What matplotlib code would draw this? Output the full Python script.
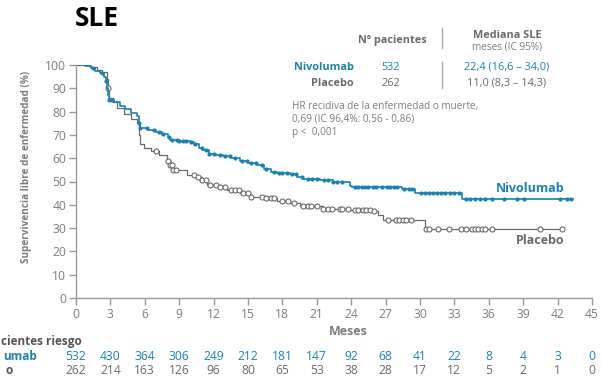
import numpy as np
import matplotlib
matplotlib.use("Agg")
import matplotlib.pyplot as plt
from matplotlib.transforms import blended_transform_factory

plt.rcParams['font.family'] = ['Open Sans', 'DejaVu Sans']

BLUE = '#1a82ad'
GREY = '#6a6a6a'
TXT = '#7c7c7c'

# Kaplan-Meier steps (months, % disease-free)
nivo_t = [0, 0.8, 1.3, 1.7, 2.1, 2.4, 2.6, 2.7, 2.8, 2.9, 3.3, 3.8, 4.3, 4.8,
          5.3, 5.5, 5.6, 6.3, 7.0, 7.5, 8.0, 8.2, 9.0, 9.9, 10.3, 10.7, 11.1,
          11.6, 12.2, 12.8, 13.5, 14.3, 15.0, 15.8, 16.4, 17.0, 17.5, 18.7,
          19.3, 19.8, 20.5, 21.3, 22.4, 23.9, 24.1, 28.4, 29.6, 33.7, 43.3]
nivo_s = [100, 99.5, 98.5, 97.5, 96.5, 95, 93, 90, 87, 85, 84, 82.5, 81, 79.5,
          78, 75, 73, 72, 71.2, 70.5, 69, 68, 67.5, 67, 66, 64.5, 63.5,
          62, 61.5, 61, 60, 58.6, 58, 57, 55.5, 54, 53.6, 53.2,
          52, 51.2, 51, 50.5, 49.8, 48.2, 47.6, 46.8, 45.0, 42.5, 42.5]

plac_t = [0, 1.2, 1.8, 2.3, 2.7, 2.8, 2.9, 3.2, 3.6, 4.2, 4.8, 5.3, 5.5, 5.6,
          5.9, 6.5, 7.2, 7.9, 8.2, 8.5, 9.7, 10.5, 11.0, 11.4, 12.5, 13.2,
          14.3, 15.2, 16.6, 17.5, 18.7, 19.5, 21.5, 23.9, 25.9, 26.3, 26.8,
          30.4, 42.4]
plac_s = [100, 99, 98, 97, 94, 90, 86, 84, 81.5, 79, 77, 75, 70, 66,
          64.5, 63, 61.5, 59, 57, 55, 53, 52, 50.5, 48.5, 47.5, 46.5,
          45.2, 43.5, 42.9, 41.5, 40.8, 39.5, 38.4, 37.8, 37.3, 35.6, 33.5,
          29.6, 29.6]

# censored observations (months)
nivo_cens = [1.5, 2.3, 2.6, 2.9, 3.1, 5.5, 5.6, 6.2, 6.8, 7.2, 7.6, 8.1, 8.4,
             8.8, 9.0, 9.3, 9.6, 10.0, 10.4, 11.0, 11.3, 11.6, 12.0, 12.6,
             13.0, 13.4, 13.9, 14.5, 14.9, 15.3, 15.7, 16.2, 16.6, 17.3, 17.7,
             18.0, 18.4, 18.8, 19.2, 19.7, 20.2, 20.6, 21.0, 21.6, 22.0, 22.4,
             22.8, 23.2, 24.3, 24.6, 24.9, 25.2, 25.5, 25.9, 26.2, 26.7, 27.1,
             27.4, 27.7, 28.0, 28.6, 29.0, 29.3, 30.1, 30.4, 30.8, 31.1, 31.5,
             31.8, 32.2, 32.6, 33.0, 33.4, 34.0, 34.4, 34.8, 35.2, 35.7, 36.3,
             37.3, 38.5, 39.1, 42.2, 42.8, 43.2]
plac_cens = [2.8, 7.0, 8.0, 8.2, 8.4, 8.5, 8.7, 10.3, 10.6, 11.0, 11.3, 11.7,
             12.2, 12.6, 13.0, 13.5, 13.9, 14.2, 14.6, 15.0, 15.3, 16.2, 16.6,
             17.0, 17.3, 18.0, 18.5, 19.0, 19.8, 20.2, 20.5, 21.0, 21.5, 22.0,
             22.3, 23.0, 23.2, 23.7, 24.3, 24.6, 25.0, 25.3, 25.6, 26.0, 27.2,
             27.9, 28.2, 28.5, 28.8, 29.2, 30.5, 30.8, 31.6, 32.5, 33.6, 34.0,
             34.5, 34.8, 35.1, 35.4, 35.7, 36.3, 40.5, 42.4]

risk_months = list(range(0, 46, 3))
nivo_risk = [532, 430, 364, 306, 249, 212, 181, 147, 92, 68, 41, 22, 8, 4, 3, 0]
plac_risk = [262, 214, 163, 126, 96, 80, 65, 53, 38, 28, 17, 12, 5, 2, 1, 0]

W, H = 603, 378


def fx(x):
    return x / W


def fy(y):
    return 1 - y / H


def surv_at(times, surv, t):
    i = np.searchsorted(times, t, side='right') - 1
    return np.asarray(surv)[i]


fig = plt.figure(figsize=(W / 100, H / 100), dpi=100)
ax = fig.add_axes([fx(76), fy(298), fx(592) - fx(76), fy(65) - fy(298)])

ax.step(plac_t, plac_s, where='post', color=GREY, lw=0.9)
ax.plot(plac_cens, surv_at(plac_t, plac_s, plac_cens), 'o', ms=3.6,
        mfc='white', mec=GREY, mew=0.8)
ax.step(nivo_t, nivo_s, where='post', color=BLUE, lw=1.2)
ax.plot(nivo_cens, surv_at(nivo_t, nivo_s, nivo_cens), 'o', ms=3.0,
        color=BLUE, mew=0)

ax.set_xlim(0, 45)
ax.set_ylim(0, 100)
ax.set_xticks(risk_months)
ax.set_yticks(range(0, 101, 10))
for s in ['top', 'right']:
    ax.spines[s].set_visible(False)
for s in ['left', 'bottom']:
    ax.spines[s].set_color('#999999')
    ax.spines[s].set_linewidth(1.0)
ax.tick_params(colors='#999999', labelcolor=TXT, labelsize=8.7, length=5,
               width=1.0, pad=2)
ax.set_xlabel('Meses', fontsize=9, fontweight='bold', color=TXT)
ax.xaxis.set_label_coords(fx(348), fy(325), transform=fig.transFigure)
ax.set_ylabel('Supervivencia libre de enfermedad (%)', fontsize=7.2,
              fontweight='bold', color=TXT)
ax.yaxis.set_label_coords(fx(32), fy(167), transform=fig.transFigure)

ax.text(42.6, 46.8, 'Nivolumab', color=BLUE, fontsize=9, fontweight='bold',
        ha='right', va='center')
ax.text(42.6, 24.5, 'Placebo', color=GREY, fontsize=9, fontweight='bold',
        ha='right', va='center')

# title and summary table
fig.text(fx(75), fy(18), 'SLE', fontsize=19, fontweight='bold', color='black',
         ha='left', va='center')
fig.text(fx(392), fy(40), 'Nº pacientes', fontsize=7.8, fontweight='bold',
         color=GREY, ha='center', va='center')
fig.text(fx(507), fy(35), 'Mediana SLE', fontsize=7.8, fontweight='bold',
         color=GREY, ha='center', va='center')
fig.text(fx(507), fy(47), 'meses (IC 95%)', fontsize=7.2, color=TXT,
         ha='center', va='center')
fig.add_artist(plt.Line2D([fx(442), fx(442)], [fy(28), fy(48)],
                          color='#aaaaaa', lw=1.0))
fig.add_artist(plt.Line2D([fx(442), fx(442)], [fy(62), fy(88)],
                          color='#aaaaaa', lw=1.0))
fig.text(fx(354), fy(67), 'Nivolumab', fontsize=7.8, fontweight='bold',
         color=BLUE, ha='right', va='center')
fig.text(fx(391), fy(67), '532', fontsize=7.8, color=BLUE,
         ha='center', va='center')
fig.text(fx(507), fy(67), '22,4 (16,6 – 34,0)', fontsize=7.8, color=BLUE,
         ha='center', va='center')
fig.text(fx(354), fy(83), 'Placebo', fontsize=7.8, fontweight='bold',
         color=GREY, ha='right', va='center')
fig.text(fx(391), fy(83), '262', fontsize=7.8, color=GREY,
         ha='center', va='center')
fig.text(fx(507), fy(83), '11,0 (8,3 – 14,3)', fontsize=7.8, color=GREY,
         ha='center', va='center')
fig.text(fx(292), fy(107), 'HR recidiva de la enfermedad o muerte,',
         fontsize=7.2, color=TXT, ha='left', va='center')
fig.text(fx(292), fy(119), '0,69 (IC 96,4%: 0,56 - 0,86)',
         fontsize=7.2, color=TXT, ha='left', va='center')
fig.text(fx(292), fy(132), 'p <  0,001', fontsize=7.2, color=TXT,
         ha='left', va='center')

# patients at risk (row labels run off the left edge of the slide)
fig.text(fx(1), fy(342), 'cientes riesgo', fontsize=8.5, fontweight='bold',
         color='#555555', ha='left', va='center')
fig.text(fx(37), fy(357), 'umab', fontsize=8.5, fontweight='bold',
         color=BLUE, ha='right', va='center')
fig.text(fx(13), fy(371), 'o', fontsize=8.5, fontweight='bold',
         color='#555555', ha='right', va='center')
tr = blended_transform_factory(ax.transData, fig.transFigure)
for m, n, p in zip(risk_months, nivo_risk, plac_risk):
    ax.text(m, fy(357), str(n), transform=tr, fontsize=8.7, color=BLUE,
            ha='center', va='center', clip_on=False)
    ax.text(m, fy(371), str(p), transform=tr, fontsize=8.7, color=GREY,
            ha='center', va='center', clip_on=False)

fig.savefig('out.png', dpi=100)
